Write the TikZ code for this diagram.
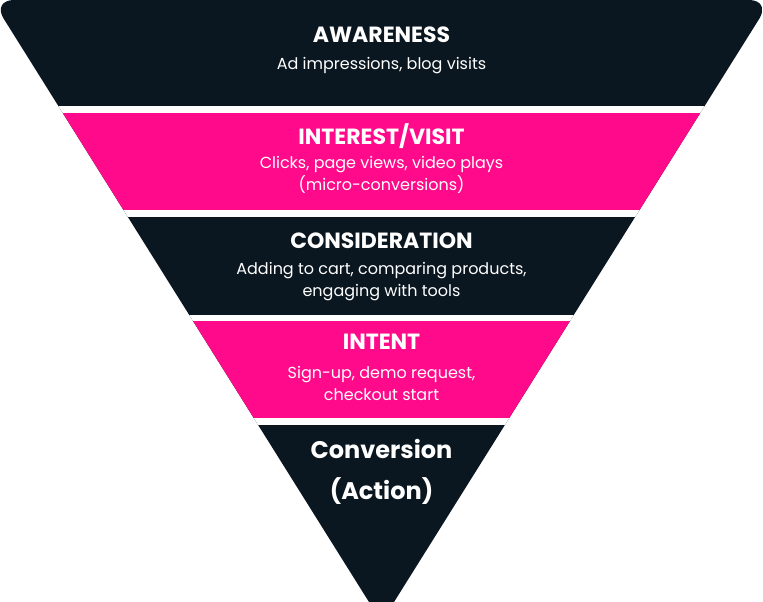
\documentclass[tikz,border=0pt]{standalone}
\usepackage{fontspec}
\setmainfont{Poppins}
\definecolor{dark}{HTML}{0B1720}
\definecolor{pink}{HTML}{FF0A8A}
\begin{document}
\begin{tikzpicture}[x=1pt,y=-1pt,
  title/.style={text=white,font=\bfseries\fontsize{22}{26}\selectfont,anchor=center},
  sub/.style={text=white,font=\fontsize{16}{22}\selectfont,align=center,anchor=center}]
\useasboundingbox (0,0) rectangle (763,602);
\fill[white] (0,0) rectangle (763,602);
\begin{scope}
\clip[rounded corners=22pt] (-8,0) -- (771,0) -- (381.5,622) -- cycle;
\fill[dark] (-10,-5) rectangle (775,610);
\fill[pink] (-10,113) rectangle (775,210);
\fill[pink] (-10,321) rectangle (775,418);
\fill[white] (-10,106) rectangle (775,113);
\fill[white] (-10,210) rectangle (775,217);
\fill[white] (-10,315) rectangle (775,321);
\fill[white] (-10,418) rectangle (775,425);
\end{scope}
\node[title] (t1) at (381.5,35) {AWARENESS};
\node[sub] (s1) at (381.5,66) {Ad impressions, blog visits};
\node[title] (t2) at (381.5,136) {INTEREST/VISIT};
\node[sub] (s2) at (381.5,175) {Clicks, page views, video plays\\(micro-conversions)};
\node[title] (t3) at (381.5,241) {CONSIDERATION};
\node[sub] (s3) at (381.5,282) {Adding to cart, comparing products,\\engaging with tools};
\node[title] (t4) at (381.5,342) {INTENT};
\node[sub] (s4) at (381.5,383) {Sign-up, demo request,\\checkout start};
\node[text=white,font=\bfseries\fontsize{24}{41}\selectfont,align=center] (t5) at (381.5,472) {Conversion\\(Action)};
\end{tikzpicture}
\end{document}
